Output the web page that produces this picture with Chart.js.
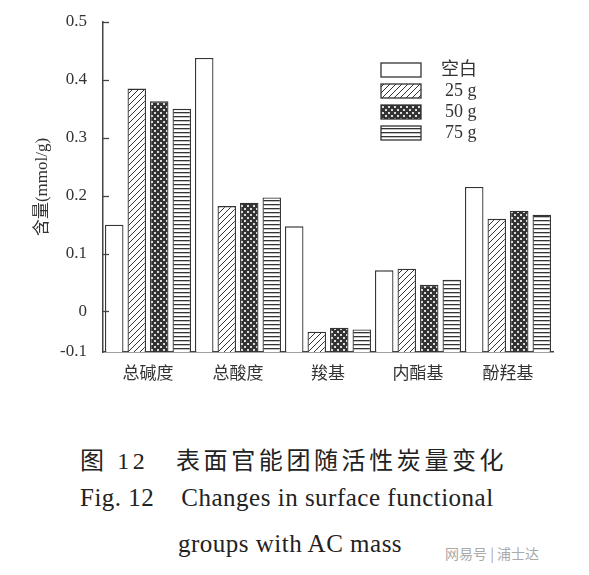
<!DOCTYPE html>
<html><head><meta charset="utf-8">
<script src="https://cdn.jsdelivr.net/npm/chart.js@4"></script>
<style>
body{margin:0;background:#fff;width:589px;height:575px;overflow:hidden;font-family:"Liberation Serif","Noto Sans CJK SC",serif;color:#222}
#wrap{position:absolute;left:0;top:0;width:589px;height:390px}
.cap{position:absolute;left:0;white-space:pre}
</style></head><body>
<div id="wrap"><canvas id="c" width="589" height="390"></canvas></div>
<div class="cap" style="top:441px;left:80px;font-size:24px;letter-spacing:3.6px">图 12　表面官能团随活性炭量变化</div>
<div class="cap" style="top:484px;left:80px;font-size:25px;letter-spacing:0.5px">Fig. 12    Changes in surface functional</div>
<div class="cap" style="top:530px;left:178px;font-size:25px;letter-spacing:0.5px">groups with AC mass</div>
<div style="position:absolute;left:445px;top:543px;font:14px 'Noto Sans CJK SC';color:#aaa">网易号 | 浦士达</div>
<script>
const categories = ['总碱度', '总酸度', '羧基', '内酯基', '酚羟基'];
const seriesNames = ['空白', '25 g', '50 g', '75 g'];
const blank = [0.150, 0.438, 0.147, 0.071, 0.215];
const g25 = [0.385, 0.182, -0.035, 0.074, 0.160];
const g50 = [0.363, 0.188, -0.028, 0.046, 0.174];
const g75 = [0.350, 0.197, -0.031, 0.055, 0.167];
const yTicks = [-0.07, 0, 0.1, 0.2, 0.3, 0.4, 0.5];
const AXIS_MIN = -0.07;

function pat(kind) {
  const c = document.createElement('canvas'); c.width = 6; c.height = 6;
  const x = c.getContext('2d');
  x.fillStyle = '#fff'; x.fillRect(0, 0, 6, 6);
  x.strokeStyle = '#333'; x.lineWidth = 1;
  if (kind === 'diag') {
    x.beginPath();
    x.moveTo(0, 6); x.lineTo(6, 0); x.moveTo(-3, 3); x.lineTo(3, -3); x.moveTo(3, 9); x.lineTo(9, 3);
    x.stroke();
  } else if (kind === 'dots') {
    x.fillStyle = '#333'; x.fillRect(0, 0, 6, 6);
    x.fillStyle = '#ddd';
    x.fillRect(1, 1, 2, 2); x.fillRect(4, 4, 2, 2);
  } else if (kind === 'hline') {
    c.height = 4;
    x.fillStyle = '#fff'; x.fillRect(0, 0, 6, 4);
    x.fillStyle = '#333'; x.fillRect(0, 0, 6, 1.3);
  } else return '#fff';
  return x.createPattern(c, 'repeat');
}
const fills = [pat('none'), pat('diag'), pat('dots'), pat('hline')];
const data = [blank, g25, g50, g75];

const serif = '"Liberation Serif", "Noto Sans CJK SC", serif';

const extras = {
  id: 'extras',
  afterDraw(chart) {
    const ctx = chart.ctx, y = chart.scales.y, left = chart.chartArea.left;
    ctx.save();
    ctx.strokeStyle = '#444'; ctx.lineWidth = 1.3;
    yTicks.forEach(v => {
      if (v === AXIS_MIN) return;
      const py = Math.round(y.getPixelForValue(v)) + 0.5;
      ctx.beginPath(); ctx.moveTo(left, py); ctx.lineTo(left + 6, py); ctx.stroke();
    });
    // legend
    const lx = 381, ly = 63;
    seriesNames.forEach((n, i) => {
      const yy = ly + i * 21;
      ctx.fillStyle = fills[i]; ctx.fillRect(lx, yy, 40, 14);
      ctx.strokeStyle = '#333'; ctx.lineWidth = 1.3; ctx.strokeRect(lx, yy, 40, 14);
      ctx.fillStyle = '#333'; ctx.font = '18px ' + serif; ctx.textBaseline = 'middle';
      ctx.fillText(n, i === 0 ? 441 : 445, yy + 7);
    });
    ctx.restore();
  }
};

new Chart(document.getElementById('c'), {
  type: 'bar',
  data: {
    labels: categories,
    datasets: data.map((d, i) => ({
      label: seriesNames[i], data: d, base: AXIS_MIN,
      backgroundColor: fills[i], borderColor: '#333', borderWidth: 1.3,
      barPercentage: 0.82, categoryPercentage: 1
    }))
  },
  options: {
    responsive: false, animation: false,
    layout: { padding: { left: 0, top: 22, right: 36, bottom: 0 } },
    plugins: { legend: { display: false }, tooltip: { enabled: false } },
    scales: {
      x: {
        grid: { display: false }, border: { color: '#444', width: 1.5 },
        ticks: { color: '#333', font: { size: 17, family: serif }, padding: 4 },
        afterFit(s) { s.height = 38; }
      },
      y: {
        min: AXIS_MIN, max: 0.5,
        grid: { display: false }, border: { color: '#444', width: 1.5 },
        afterBuildTicks(s) { s.ticks = yTicks.map(v => ({ value: v })); },
        ticks: { color: '#333', font: { size: 17, family: serif }, padding: 8,
          callback: v => v === AXIS_MIN ? '-0.1' : (v === 0 ? '0' : v.toFixed(1)) },
        title: { display: true, text: '含量(mmol/g)', color: '#333', font: { size: 17, family: serif }, padding: { top: 32, bottom: 2 } },
        afterFit(s) { s.width = 103; }
      }
    }
  },
  plugins: [extras]
});
</script>
</body></html>
